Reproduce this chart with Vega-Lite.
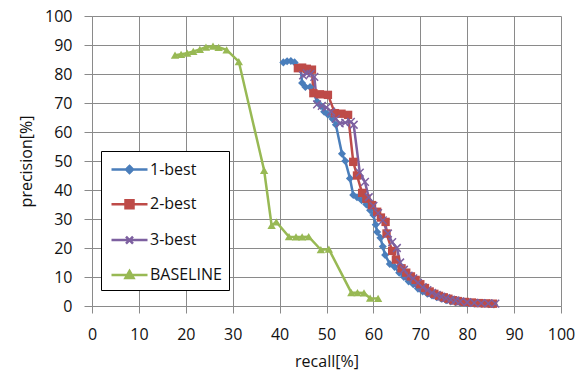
{
  "$schema": "https://vega.github.io/schema/vega-lite/v6.json",
  "width": 469,
  "height": 290,
  "autosize": "none",
  "padding": {"left": 92, "top": 16, "right": 24, "bottom": 65},
  "background": "white",
  "config": {
    "view": {"stroke": null},
    "font": "Open Sans",
    "axis": {
      "gridColor": "#8a8a8a", "gridWidth": 1, "gridOpacity": 1,
      "domainColor": "#8a8a8a", "domainWidth": 1,
      "tickColor": "#8a8a8a", "tickWidth": 1,
      "labelFont": "Open Sans", "labelFontSize": 16, "labelColor": "#111",
      "titleFont": "Open Sans", "titleFontSize": 16, "titleFontWeight": "normal", "titleColor": "#111"
    }
  },
  "data": {"values": [
    {"series":"1-best","idx":1,"recall":40.8,"precision":84.0},
    {"series":"1-best","idx":2,"recall":41.6,"precision":84.4},
    {"series":"1-best","idx":3,"recall":42.4,"precision":84.5},
    {"series":"1-best","idx":4,"recall":43.2,"precision":84.0},
    {"series":"1-best","idx":5,"recall":44.5,"precision":82.0},
    {"series":"1-best","idx":6,"recall":44.8,"precision":76.9},
    {"series":"1-best","idx":7,"recall":45.5,"precision":75.5},
    {"series":"1-best","idx":8,"recall":46.5,"precision":75.5},
    {"series":"1-best","idx":9,"recall":47.2,"precision":73.5},
    {"series":"1-best","idx":10,"recall":48.0,"precision":70.5},
    {"series":"1-best","idx":11,"recall":48.8,"precision":69.0},
    {"series":"1-best","idx":12,"recall":49.5,"precision":67.0},
    {"series":"1-best","idx":13,"recall":50.3,"precision":66.0},
    {"series":"1-best","idx":14,"recall":51.3,"precision":64.5},
    {"series":"1-best","idx":15,"recall":52.0,"precision":62.5},
    {"series":"1-best","idx":16,"recall":53.3,"precision":52.5},
    {"series":"1-best","idx":17,"recall":54.0,"precision":50.0},
    {"series":"1-best","idx":18,"recall":55.0,"precision":44.0},
    {"series":"1-best","idx":19,"recall":55.7,"precision":38.3},
    {"series":"1-best","idx":20,"recall":56.5,"precision":37.5},
    {"series":"1-best","idx":21,"recall":57.5,"precision":36.5},
    {"series":"1-best","idx":22,"recall":58.5,"precision":35.0},
    {"series":"1-best","idx":23,"recall":59.3,"precision":33.0},
    {"series":"1-best","idx":24,"recall":60.0,"precision":31.4},
    {"series":"1-best","idx":25,"recall":60.5,"precision":28.0},
    {"series":"1-best","idx":26,"recall":60.8,"precision":25.5},
    {"series":"1-best","idx":27,"recall":61.5,"precision":23.5},
    {"series":"1-best","idx":28,"recall":62.0,"precision":20.5},
    {"series":"1-best","idx":29,"recall":62.5,"precision":17.6},
    {"series":"1-best","idx":30,"recall":63.5,"precision":14.5},
    {"series":"1-best","idx":31,"recall":64.5,"precision":13.5},
    {"series":"1-best","idx":32,"recall":65.5,"precision":11.5},
    {"series":"1-best","idx":33,"recall":66.5,"precision":10.0},
    {"series":"1-best","idx":34,"recall":67.5,"precision":8.5},
    {"series":"1-best","idx":35,"recall":68.5,"precision":7.5},
    {"series":"1-best","idx":36,"recall":69.5,"precision":6.0},
    {"series":"1-best","idx":37,"recall":70.5,"precision":5.0},
    {"series":"1-best","idx":38,"recall":71.5,"precision":4.2},
    {"series":"1-best","idx":39,"recall":72.5,"precision":3.6},
    {"series":"1-best","idx":40,"recall":73.5,"precision":3.0},
    {"series":"1-best","idx":41,"recall":74.5,"precision":2.5},
    {"series":"1-best","idx":42,"recall":75.5,"precision":2.0},
    {"series":"1-best","idx":43,"recall":76.5,"precision":1.6},
    {"series":"1-best","idx":44,"recall":77.5,"precision":1.3},
    {"series":"1-best","idx":45,"recall":78.5,"precision":1.1},
    {"series":"1-best","idx":46,"recall":80.0,"precision":0.9},
    {"series":"1-best","idx":47,"recall":81.5,"precision":0.8},
    {"series":"1-best","idx":48,"recall":83.0,"precision":0.7},
    {"series":"1-best","idx":49,"recall":84.5,"precision":0.6},
    {"series":"1-best","idx":50,"recall":85.7,"precision":0.5},

    {"series":"2-best","idx":1,"recall":43.9,"precision":82.0},
    {"series":"2-best","idx":2,"recall":44.8,"precision":82.2},
    {"series":"2-best","idx":3,"recall":45.8,"precision":81.8},
    {"series":"2-best","idx":4,"recall":46.9,"precision":81.5},
    {"series":"2-best","idx":5,"recall":47.2,"precision":73.4},
    {"series":"2-best","idx":6,"recall":48.6,"precision":73.0},
    {"series":"2-best","idx":7,"recall":50.3,"precision":72.8},
    {"series":"2-best","idx":8,"recall":51.8,"precision":66.5},
    {"series":"2-best","idx":9,"recall":53.2,"precision":66.3},
    {"series":"2-best","idx":10,"recall":54.6,"precision":65.9},
    {"series":"2-best","idx":11,"recall":55.7,"precision":49.7},
    {"series":"2-best","idx":12,"recall":56.5,"precision":45.0},
    {"series":"2-best","idx":13,"recall":57.6,"precision":39.0},
    {"series":"2-best","idx":14,"recall":58.5,"precision":37.0},
    {"series":"2-best","idx":15,"recall":59.7,"precision":34.8},
    {"series":"2-best","idx":16,"recall":60.8,"precision":32.5},
    {"series":"2-best","idx":17,"recall":61.6,"precision":30.5},
    {"series":"2-best","idx":18,"recall":62.6,"precision":29.0},
    {"series":"2-best","idx":19,"recall":62.8,"precision":25.0},
    {"series":"2-best","idx":20,"recall":64.0,"precision":19.0},
    {"series":"2-best","idx":21,"recall":64.8,"precision":16.0},
    {"series":"2-best","idx":22,"recall":66.0,"precision":13.0},
    {"series":"2-best","idx":23,"recall":67.0,"precision":11.5},
    {"series":"2-best","idx":24,"recall":68.0,"precision":10.2},
    {"series":"2-best","idx":25,"recall":69.0,"precision":9.0},
    {"series":"2-best","idx":26,"recall":70.0,"precision":7.5},
    {"series":"2-best","idx":27,"recall":71.0,"precision":6.2},
    {"series":"2-best","idx":28,"recall":72.0,"precision":5.0},
    {"series":"2-best","idx":29,"recall":73.0,"precision":4.2},
    {"series":"2-best","idx":30,"recall":74.0,"precision":3.5},
    {"series":"2-best","idx":31,"recall":75.0,"precision":3.0},
    {"series":"2-best","idx":32,"recall":76.0,"precision":2.5},
    {"series":"2-best","idx":33,"recall":77.0,"precision":2.0},
    {"series":"2-best","idx":34,"recall":78.0,"precision":1.7},
    {"series":"2-best","idx":35,"recall":79.5,"precision":1.4},
    {"series":"2-best","idx":36,"recall":81.0,"precision":1.2},
    {"series":"2-best","idx":37,"recall":82.5,"precision":1.0},
    {"series":"2-best","idx":38,"recall":84.0,"precision":0.9},
    {"series":"2-best","idx":39,"recall":85.5,"precision":0.8},

    {"series":"3-best","idx":1,"recall":45.0,"precision":79.5},
    {"series":"3-best","idx":2,"recall":45.8,"precision":80.2},
    {"series":"3-best","idx":3,"recall":46.6,"precision":80.0},
    {"series":"3-best","idx":4,"recall":47.4,"precision":79.0},
    {"series":"3-best","idx":5,"recall":48.0,"precision":69.5},
    {"series":"3-best","idx":6,"recall":49.0,"precision":69.0},
    {"series":"3-best","idx":7,"recall":50.0,"precision":68.5},
    {"series":"3-best","idx":8,"recall":51.0,"precision":67.0},
    {"series":"3-best","idx":9,"recall":52.0,"precision":64.5},
    {"series":"3-best","idx":10,"recall":52.8,"precision":63.0},
    {"series":"3-best","idx":11,"recall":54.0,"precision":63.2},
    {"series":"3-best","idx":12,"recall":55.2,"precision":63.5},
    {"series":"3-best","idx":13,"recall":55.8,"precision":62.5},
    {"series":"3-best","idx":14,"recall":57.1,"precision":46.0},
    {"series":"3-best","idx":15,"recall":58.2,"precision":42.8},
    {"series":"3-best","idx":16,"recall":59.0,"precision":37.5},
    {"series":"3-best","idx":17,"recall":60.0,"precision":34.5},
    {"series":"3-best","idx":18,"recall":61.0,"precision":32.0},
    {"series":"3-best","idx":19,"recall":62.0,"precision":29.5},
    {"series":"3-best","idx":20,"recall":63.1,"precision":25.0},
    {"series":"3-best","idx":21,"recall":64.0,"precision":22.0},
    {"series":"3-best","idx":22,"recall":65.0,"precision":20.0},
    {"series":"3-best","idx":23,"recall":65.7,"precision":15.0},
    {"series":"3-best","idx":24,"recall":66.5,"precision":12.5},
    {"series":"3-best","idx":25,"recall":67.5,"precision":10.5},
    {"series":"3-best","idx":26,"recall":68.5,"precision":9.5},
    {"series":"3-best","idx":27,"recall":69.5,"precision":8.0},
    {"series":"3-best","idx":28,"recall":70.5,"precision":6.5},
    {"series":"3-best","idx":29,"recall":71.5,"precision":5.5},
    {"series":"3-best","idx":30,"recall":72.5,"precision":4.5},
    {"series":"3-best","idx":31,"recall":73.5,"precision":3.8},
    {"series":"3-best","idx":32,"recall":74.5,"precision":3.2},
    {"series":"3-best","idx":33,"recall":75.5,"precision":2.7},
    {"series":"3-best","idx":34,"recall":76.5,"precision":2.2},
    {"series":"3-best","idx":35,"recall":77.5,"precision":1.9},
    {"series":"3-best","idx":36,"recall":78.5,"precision":1.6},
    {"series":"3-best","idx":37,"recall":80.0,"precision":1.3},
    {"series":"3-best","idx":38,"recall":81.5,"precision":1.1},
    {"series":"3-best","idx":39,"recall":83.0,"precision":1.0},
    {"series":"3-best","idx":40,"recall":84.5,"precision":0.9},
    {"series":"3-best","idx":41,"recall":86.0,"precision":0.8},

    {"series":"BASELINE","idx":1,"recall":17.7,"precision":86.5},
    {"series":"BASELINE","idx":2,"recall":19.0,"precision":86.8},
    {"series":"BASELINE","idx":3,"recall":20.3,"precision":87.2},
    {"series":"BASELINE","idx":4,"recall":21.6,"precision":87.8},
    {"series":"BASELINE","idx":5,"recall":23.0,"precision":88.5},
    {"series":"BASELINE","idx":6,"recall":24.3,"precision":89.3},
    {"series":"BASELINE","idx":7,"recall":25.8,"precision":89.6},
    {"series":"BASELINE","idx":8,"recall":27.0,"precision":89.2},
    {"series":"BASELINE","idx":9,"recall":28.7,"precision":88.3},
    {"series":"BASELINE","idx":10,"recall":31.3,"precision":84.3},
    {"series":"BASELINE","idx":11,"recall":36.7,"precision":46.8},
    {"series":"BASELINE","idx":12,"recall":38.3,"precision":27.8},
    {"series":"BASELINE","idx":13,"recall":39.3,"precision":29.0},
    {"series":"BASELINE","idx":14,"recall":42.0,"precision":23.9},
    {"series":"BASELINE","idx":15,"recall":43.5,"precision":23.8},
    {"series":"BASELINE","idx":16,"recall":44.8,"precision":23.8},
    {"series":"BASELINE","idx":17,"recall":46.2,"precision":23.9},
    {"series":"BASELINE","idx":18,"recall":48.8,"precision":19.4},
    {"series":"BASELINE","idx":19,"recall":50.5,"precision":19.6},
    {"series":"BASELINE","idx":20,"recall":55.3,"precision":4.6},
    {"series":"BASELINE","idx":21,"recall":56.6,"precision":4.6},
    {"series":"BASELINE","idx":22,"recall":58.0,"precision":4.5},
    {"series":"BASELINE","idx":23,"recall":59.3,"precision":2.7},
    {"series":"BASELINE","idx":24,"recall":61.0,"precision":2.6}
  ]},
  "encoding": {
    "x": {"field": "recall", "type": "quantitative", "scale": {"domain": [0, 100], "nice": false},
      "axis": {"values": [0,10,20,30,40,50,60,70,80,90,100], "title": "recall[%]", "tickSize": 7, "labelPadding": 13, "titlePadding": 11, "labelFlush": false}},
    "y": {"field": "precision", "type": "quantitative", "scale": {"domain": [0, 100], "nice": false},
      "axis": {"values": [0,10,20,30,40,50,60,70,80,90,100], "title": "precision[%]", "tickSize": 8, "labelPadding": 12, "titlePadding": 10, "labelFlush": false}}
  },
  "layer": [
    {
      "mark": {"type": "line", "strokeWidth": 2.5},
      "encoding": {
        "order": {"field": "idx", "type": "quantitative"},
        "color": {"field": "series", "type": "nominal",
          "scale": {"domain": ["1-best","2-best","3-best","BASELINE"], "range": ["#4A7EBB","#BE4B48","#7D60A0","#98B954"]},
          "legend": {
            "title": null, "orient": "none", "legendX": 9, "legendY": 135,
            "padding": 7, "strokeColor": "black", "fillColor": "white",
            "labelFont": "Open Sans", "labelFontSize": 16, "labelColor": "#111",
            "symbolSize": 400, "rowPadding": 14.8, "labelOffset": 19,
            "symbolStrokeWidth": 2.5,
            "encode": {"symbols": {"update": {
              "shape": {"signal": "datum.value === '1-best' ? 'M-0.8,0H2.8M1,-0.35L1.35,0L1,0.35L0.65,0Z' : datum.value === '2-best' ? 'M-0.8,0H2.8M0.6,-0.4H1.4V0.4H0.6Z' : datum.value === '3-best' ? 'M-0.8,0H2.8M0.65,-0.35L1.35,0.35M0.65,0.35L1.35,-0.35' : 'M-0.8,0H2.8M1,-0.4L1.4,0.3H0.6Z'"},
              "fill": {"signal": "scale('color', datum.value)"},
              "strokeWidth": {"value": 2.5}
            }}}
          }}
      }
    },
    {
      "transform": [{"filter": "datum.series === '1-best'"}],
      "mark": {"type": "point", "shape": "diamond", "filled": true, "color": "#4A7EBB", "opacity": 1, "size": 65}
    },
    {
      "transform": [{"filter": "datum.series === '2-best'"}],
      "mark": {"type": "point", "shape": "square", "filled": true, "color": "#BE4B48", "opacity": 1, "size": 70}
    },
    {
      "transform": [{"filter": "datum.series === '3-best'"}],
      "mark": {"type": "point", "shape": "M-1,-1L1,1M-1,1L1,-1", "filled": false, "color": "#7D60A0", "opacity": 1, "size": 60, "strokeWidth": 1.5}
    },
    {
      "transform": [{"filter": "datum.series === 'BASELINE'"}],
      "mark": {"type": "point", "shape": "triangle-up", "filled": true, "color": "#98B954", "opacity": 1, "size": 70}
    }
  ]
}
